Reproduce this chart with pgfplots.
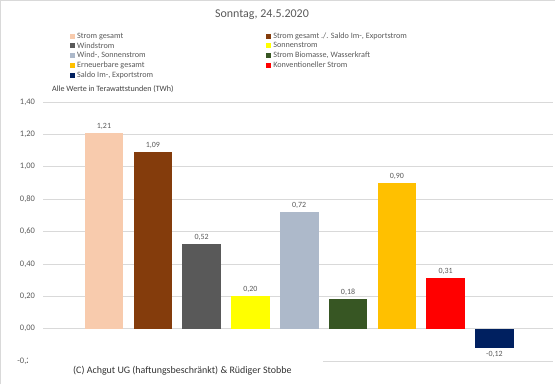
\documentclass[border=0pt]{standalone}
\usepackage{pgfplots}
\pgfplotsset{compat=1.18}
\usepackage{fontspec}
\setmainfont{Carlito}
\definecolor{cA}{HTML}{F8CBAD}
\definecolor{cB}{HTML}{843C0C}
\definecolor{cC}{HTML}{595959}
\definecolor{cD}{HTML}{FFFF00}
\definecolor{cE}{HTML}{ADB9CA}
\definecolor{cF}{HTML}{375623}
\definecolor{cG}{HTML}{FFC000}
\definecolor{cH}{HTML}{FF0000}
\definecolor{cI}{HTML}{002060}
\definecolor{txtgray}{HTML}{595959}
\begin{document}
\begin{tikzpicture}[x=1bp,y=1bp]
\path[use as bounding box] (0,0) rectangle (555,384);
\draw[gray!30] (0.5,0) -- (0.5,383.5) -- (555,383.5);
\begin{axis}[
  at={(43bp,23bp)}, anchor=south west, scale only axis,
  width=510bp, height=259bp,
  xmin=-1.25, xmax=9.2, ymin=-0.2, ymax=1.4,
  ytick={-0.2,0,0.2,0.4,0.6,0.8,1.0,1.2,1.4},
  xtick=\empty,
  axis line style={draw=none}, major tick length=0pt,
  ymajorgrids, grid style={color=gray!30, line width=0.7pt},
  yticklabel style={font=\fontsize{8.5}{9}\selectfont, text=txtgray, xshift=-4.5bp},
  ybar, bar shift=0pt, bar width=0.79,
  nodes near coords,
  nodes near coords style={font=\fontsize{8}{9}\selectfont, text=txtgray},
  legend columns=2,
  legend cell align=left,
  legend image code/.code={\fill[#1] (0bp,-2.5bp) rectangle (5bp,2.5bp);},
  legend style={at={(0.053,1.276)}, anchor=north west, draw=none, fill=none,
    inner sep=0pt, font=\fontsize{8.2}{9}\selectfont, text=txtgray,
    row sep=-1.45bp,
    /tikz/column 2/.style={column sep=111bp}},
  /pgf/number format/.cd, fixed, fixed zerofill, precision=2, use comma, assume math mode=true
]
\addplot[ybar, bar shift=0pt, fill=cA, draw=none] coordinates {(0,1.21)};
\addlegendentry{Strom gesamt}
\addplot[ybar, bar shift=0pt, fill=cB, draw=none] coordinates {(1,1.09)};
\addlegendentry{Strom gesamt ./. Saldo Im-, Exportstrom}
\addplot[ybar, bar shift=0pt, fill=cC, draw=none] coordinates {(2,0.52)};
\addlegendentry{Windstrom}
\addplot[ybar, bar shift=0pt, fill=cD, draw=none] coordinates {(3,0.20)};
\addlegendentry{Sonnenstrom}
\addplot[ybar, bar shift=0pt, fill=cE, draw=none] coordinates {(4,0.72)};
\addlegendentry{Wind-, Sonnenstrom}
\addplot[ybar, bar shift=0pt, fill=cF, draw=none] coordinates {(5,0.18)};
\addlegendentry{Strom Biomasse, Wasserkraft}
\addplot[ybar, bar shift=0pt, fill=cG, draw=none] coordinates {(6,0.90)};
\addlegendentry{Erneuerbare gesamt}
\addplot[ybar, bar shift=0pt, fill=cH, draw=none] coordinates {(7,0.31)};
\addlegendentry{Konventioneller Strom}
\addplot[ybar, bar shift=0pt, fill=cI, draw=none] coordinates {(8,-0.12)};
\addlegendentry{Saldo Im-, Exportstrom}
\end{axis}
\node[text=txtgray, font=\fontsize{12}{14}\selectfont] at (262,369) {Sonntag, 24.5.2020};
\node[anchor=west, inner sep=0pt, text=black!75, font=\fontsize{8.1}{9}\selectfont] at (52,295) {Alle Werte in Terawattstunden (TWh)};
\fill[white] (28,16) rectangle (323,30);
\node[anchor=west, inner sep=0pt, text=black!80, font=\fontsize{10}{12}\selectfont] at (73,13) {(C) Achgut UG (haftungsbeschränkt) \& Rüdiger Stobbe};
\end{tikzpicture}
\end{document}
